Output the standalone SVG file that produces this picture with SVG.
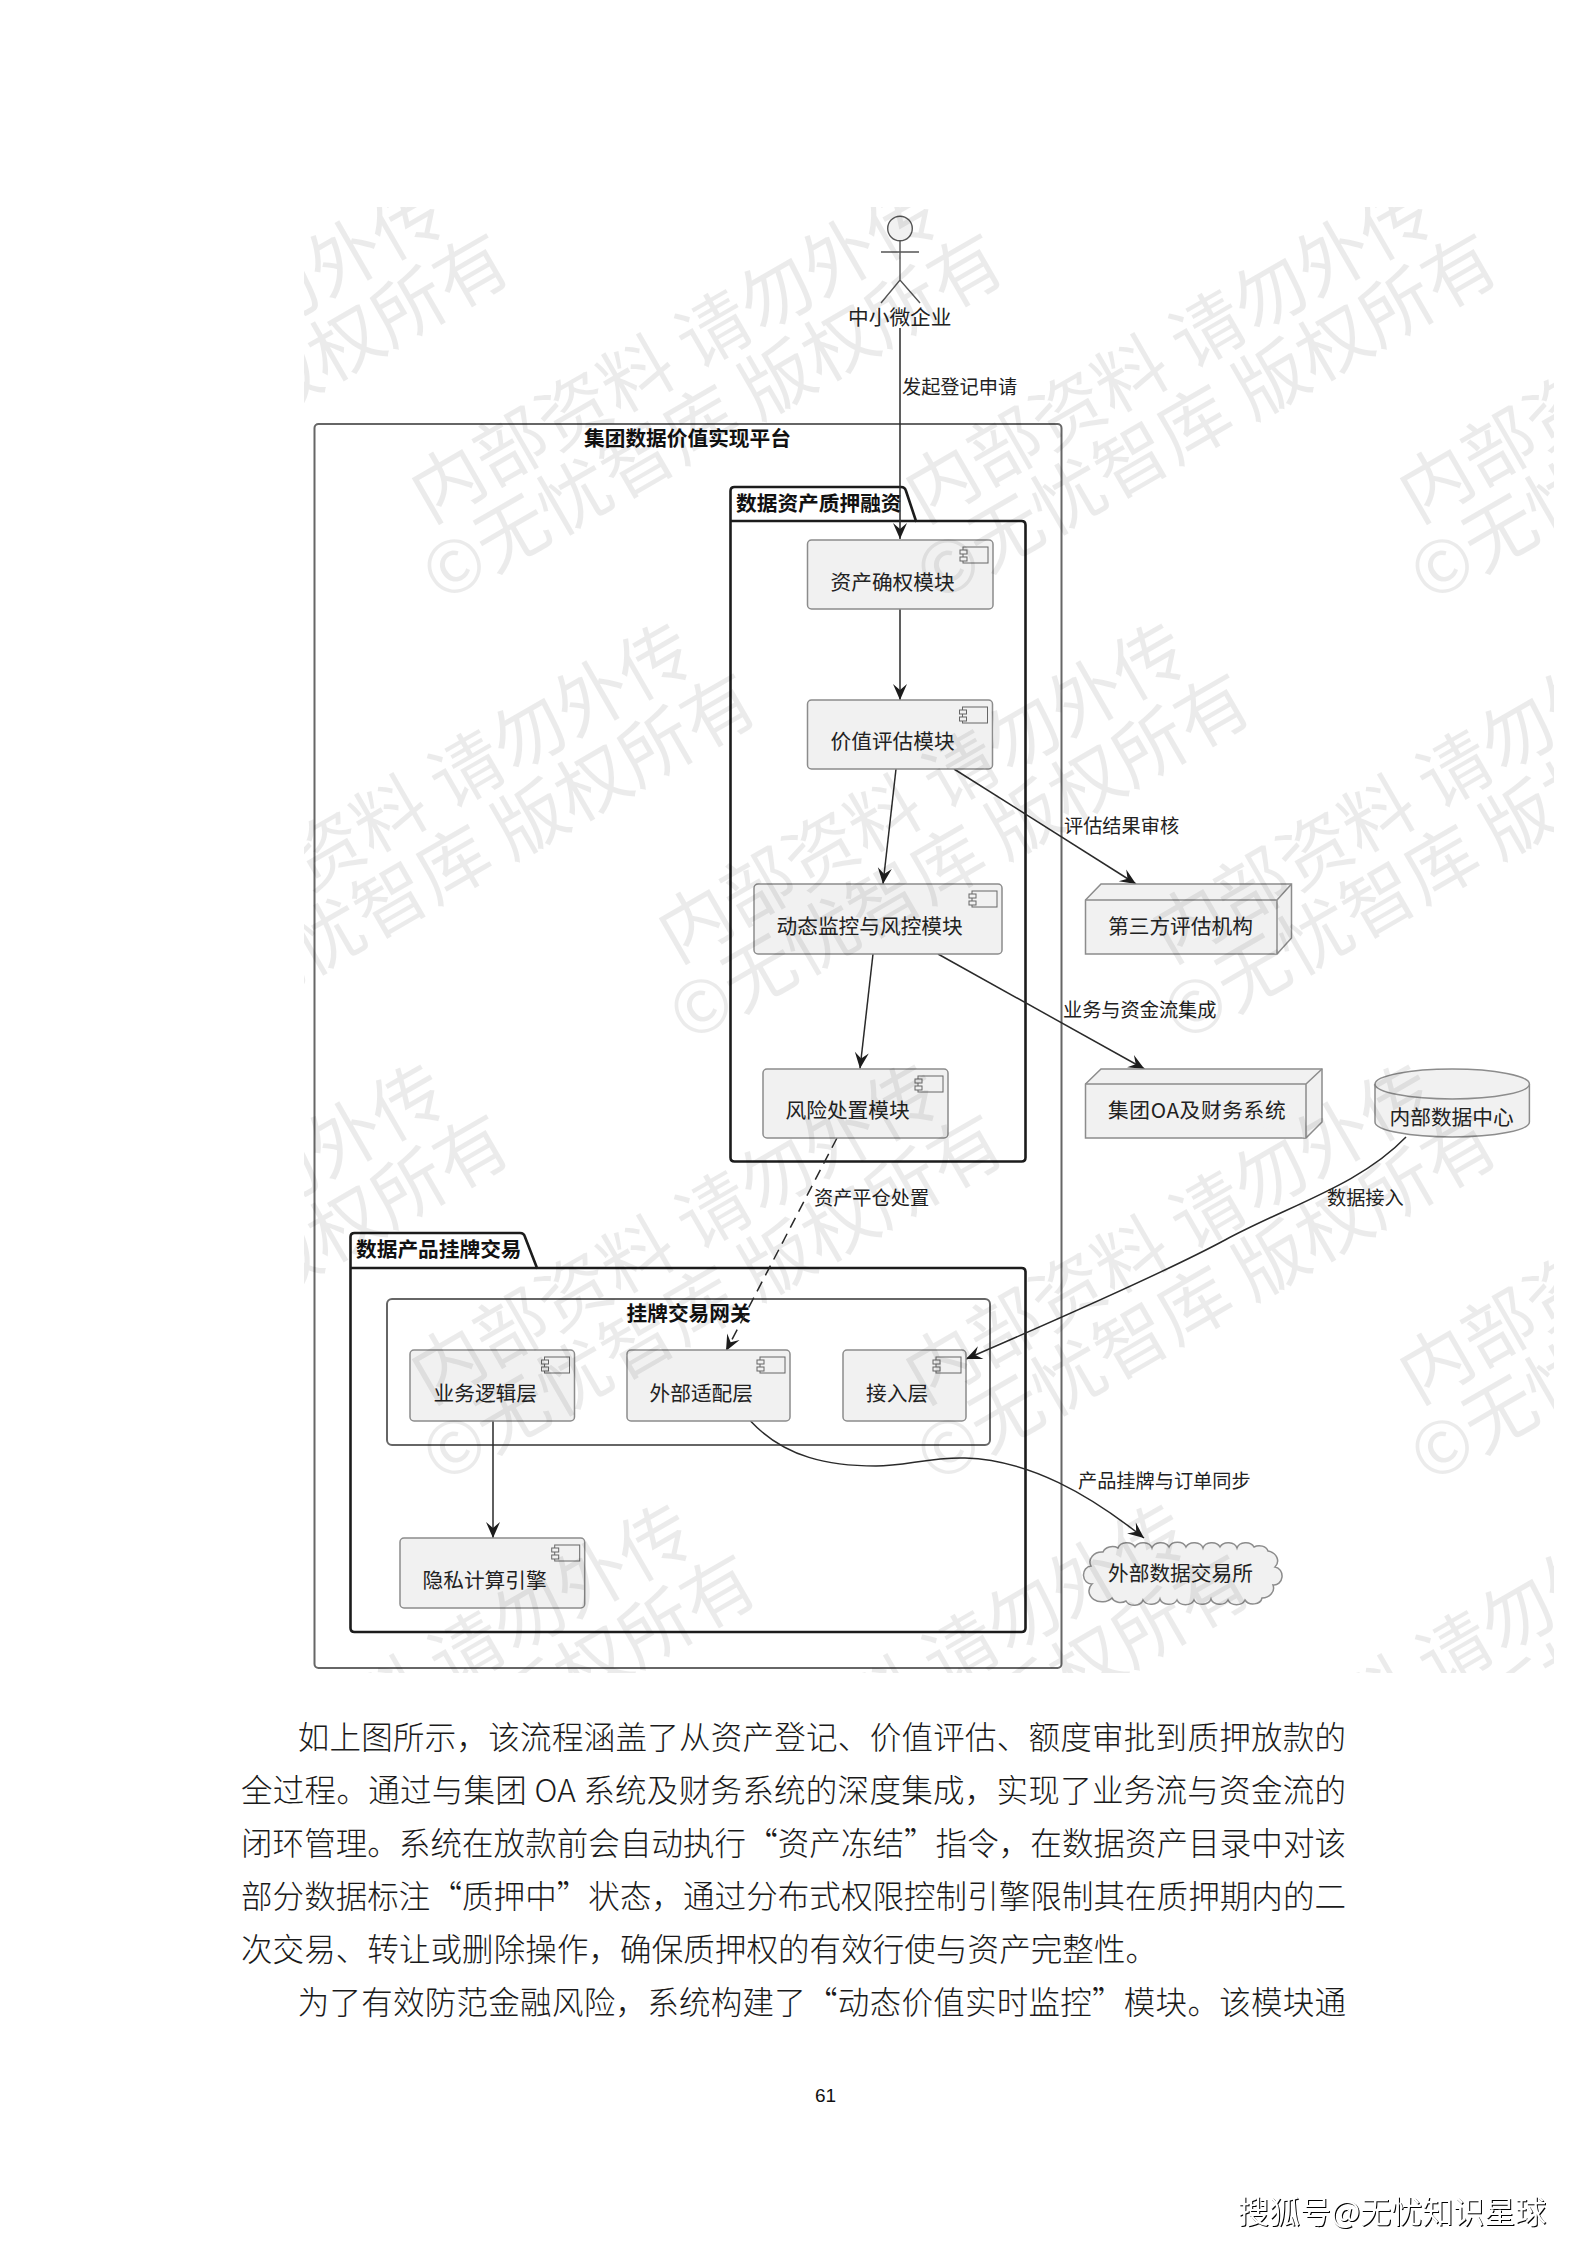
<svg xmlns="http://www.w3.org/2000/svg" xmlns:xlink="http://www.w3.org/1999/xlink" width="1587" height="2245" viewBox="0 0 1587 2245">
<style>
text{font-family:"Noto Sans CJK SC","Noto Sans",sans-serif;fill:#222}
.n{font-size:20.7px}
.b{font-size:20.7px;font-weight:700;fill:#111}
.e{font-size:19.2px}
.p{font-size:31.5px;fill:#1a1a1a;font-weight:300}
.wm{font-size:72.5px;fill:#000;fill-opacity:.08;text-anchor:middle}
.box{fill:#f1f1f1;stroke:#8c8c8c;stroke-width:1.5}
.pkg{fill:none;stroke:#1c1c1c;stroke-width:2.6;stroke-linejoin:round}
.frm{fill:none;stroke:#666;stroke-width:2}
.ln{fill:none;stroke:#2a2a2a;stroke-width:1.5}
.act{fill:none;stroke:#555;stroke-width:1.4}
.ic{fill:#f1f1f1;stroke:#666;stroke-width:1}
</style>
<defs>
<marker id="ah" markerUnits="userSpaceOnUse" viewBox="-17 -8 18 16" refX="0" refY="0" markerWidth="18" markerHeight="16" orient="auto"><path d="M0 0L-16 -7L-10 0L-16 7Z" fill="#1c1c1c"/></marker>
<g id="ci"><rect class="ic" x="-30" y="7" width="25" height="16"/><rect class="ic" x="-33" y="10" width="7" height="4"/><rect class="ic" x="-33" y="17" width="7" height="4"/></g>
<g id="wm"><text class="wm" x="0" y="-12">内部资料 请勿外传</text><text class="wm" x="0" y="63">©无忧智库 版权所有</text></g>
<clipPath id="wc"><rect x="304" y="207" width="1250" height="1466"/></clipPath>
</defs>
<rect width="1587" height="2245" fill="#fff"/>

<g id="platform"><rect class="frm" x="314.5" y="424" width="747" height="1244" rx="4"/><text class="b" x="584" y="445.5">集团数据价值实现平台</text></g>
<g id="pkg-pledge"><path class="pkg" d="M730.5 521V491q0-4 4-4H901q4 0 5 4l10 30H1021.5q4 0 4 4V1157.5q0 4-4 4H734.5q-4 0-4-4Z"/><path class="pkg" d="M730.5 521H916"/><text class="b" x="736" y="510.5">数据资产质押融资</text></g>
<g id="pkg-listing"><path class="pkg" d="M350.5 1268V1237q0-4 4-4H520q4 0 5 4l12 31H1021.5q4 0 4 4V1628q0 4-4 4H354.5q-4 0-4-4Z"/><path class="pkg" d="M350.5 1268H537"/><text class="b" x="356" y="1256.5">数据产品挂牌交易</text></g>
<g id="gateway"><rect x="387" y="1299" width="603" height="146" rx="5" fill="none" stroke="#666" stroke-width="2"/><text class="b" x="626.5" y="1320.5">挂牌交易网关</text></g>

<g id="connectors">
<path class="ln" d="M900 328V539" marker-end="url(#ah)"/>
<path class="ln" d="M900 609V700" marker-end="url(#ah)"/>
<path class="ln" d="M896 769L883 884" marker-end="url(#ah)"/>
<path class="ln" d="M873 954L860 1068.5" marker-end="url(#ah)"/>
<path class="ln" d="M954 769L1136 884" marker-end="url(#ah)"/>
<path class="ln" d="M938 954L1144.5 1069" marker-end="url(#ah)"/>
<path class="ln" d="M837 1138L726 1351" stroke-dasharray="11 7" marker-end="url(#ah)"/>
<path class="ln" d="M1406 1137C1360 1185 1290 1205 1225 1240S1040 1327 966 1359" marker-end="url(#ah)"/>
<path class="ln" d="M493 1421V1538" marker-end="url(#ah)"/>
<path class="ln" d="M750.5 1421C785 1458 830 1466 876 1466C905 1466 930 1457 965 1458C1030 1460 1090 1495 1144 1538" marker-end="url(#ah)"/>
<text class="e" x="902" y="393.5">发起登记申请</text>
<text class="e" x="1064" y="833">评估结果审核</text>
<text class="e" x="1063" y="1017">业务与资金流集成</text>
<text class="e" x="814" y="1205">资产平仓处置</text>
<text class="e" x="1327" y="1205">数据接入</text>
<text class="e" x="1078" y="1488">产品挂牌与订单同步</text>
</g>

<g id="actor"><circle cx="900" cy="228.5" r="12.3" fill="#f1f1f1" stroke="#555" stroke-width="1.4"/><path class="act" d="M900 241V280M881 252H919M881 303L900 280L920 303"/><text class="n" x="848" y="324.5">中小微企业</text></g>

<g id="asset-rights"><rect class="box" x="807.5" y="540" width="185.5" height="69" rx="4"/><use xlink:href="#ci" transform="translate(993 540)"/><text class="n" x="830.5" y="589.5">资产确权模块</text></g>
<g id="valuation"><rect class="box" x="807.5" y="700" width="185" height="69" rx="4"/><use xlink:href="#ci" transform="translate(992.5 700)"/><text class="n" x="830.5" y="748.5">价值评估模块</text></g>
<g id="monitoring"><rect class="box" x="754" y="884" width="248" height="70" rx="4"/><use xlink:href="#ci" transform="translate(1002 884)"/><text class="n" x="776.5" y="933.5">动态监控与风控模块</text></g>
<g id="disposal"><rect class="box" x="763" y="1069" width="185" height="69" rx="4"/><use xlink:href="#ci" transform="translate(948 1069)"/><text class="n" x="785.5" y="1117.5">风险处置模块</text></g>

<g id="third-party"><path class="box" d="M1085.5 900L1101 884H1291.500V938L1277 954H1085.5Z"/><path class="box" fill="none" d="M1085.5 900H1277V954M1277 900L1291.500 884"/><text class="n" x="1108" y="933.500">第三方评估机构</text></g>
<g id="oa-finance"><path class="box" d="M1085.5 1084L1101 1069H1322V1122L1306 1138H1085.5Z"/><path class="box" fill="none" d="M1085.5 1084H1306V1138M1306 1084L1322 1069"/><text class="n" x="1108" y="1117.500" textLength="177.600">集团OA及财务系统</text></g>
<g id="data-center"><path class="box" d="M1375 1084A77.200 15 0 0 1 1529.400 1084V1122A77.200 15 0 0 1 1375 1122Z"/><path class="box" fill="none" d="M1375 1084A77.200 15 0 0 0 1529.400 1084"/><text class="n" x="1389.500" y="1124.500">内部数据中心</text></g>

<g id="biz-logic"><rect class="box" x="410" y="1350" width="164.500" height="71" rx="4"/><use xlink:href="#ci" transform="translate(574.500 1350)"/><text class="n" x="433.500" y="1400.500">业务逻辑层</text></g>
<g id="adapter"><rect class="box" x="627" y="1350" width="163" height="71" rx="4"/><use xlink:href="#ci" transform="translate(790 1350)"/><text class="n" x="649.500" y="1400.500">外部适配层</text></g>
<g id="access"><rect class="box" x="843" y="1350" width="123" height="71" rx="4"/><use xlink:href="#ci" transform="translate(966 1350)"/><text class="n" x="866" y="1400.500">接入层</text></g>
<g id="privacy"><rect class="box" x="400" y="1538" width="184.700" height="70" rx="4"/><use xlink:href="#ci" transform="translate(584.700 1538)"/><text class="n" x="422.500" y="1587.500">隐私计算引擎</text></g>
<g id="exchange"><path class="box" d="M1103 1552A10 8 0 0 1 1118 1548A9 7 0 0 1 1135 1547A9 7 0 0 1 1152 1548A9 7 0 0 1 1169 1547A9 7 0 0 1 1186 1547A9 7 0 0 1 1203 1548A9 7 0 0 1 1220 1547A9 7 0 0 1 1237 1548A9 7 0 0 1 1254 1547A9 7 0 0 1 1268 1551A12 10 0 0 1 1275 1567A8 9 0 0 1 1273 1585A12 10 0 0 1 1262 1598A9 7 0 0 1 1245 1600A9 7 0 0 1 1228 1600A9 7 0 0 1 1211 1599A9 7 0 0 1 1194 1600A9 7 0 0 1 1177 1600A9 7 0 0 1 1160 1599A9 7 0 0 1 1143 1600A9 7 0 0 1 1126 1601A9 7 0 0 1 1112 1598A12 10 0 0 1 1092 1584A8 9 0 0 1 1091 1566A12 10 0 0 1 1103 1552Z"/><text class="n" x="1108" y="1580.500">外部数据交易所</text></g>

<g id="watermark" clip-path="url(#wc)">
<use xlink:href="#wm" transform="translate(200 385) rotate(-30)"/><use xlink:href="#wm" transform="translate(694 385) rotate(-30)"/><use xlink:href="#wm" transform="translate(1188 385) rotate(-30)"/><use xlink:href="#wm" transform="translate(1682 385) rotate(-30)"/>
<use xlink:href="#wm" transform="translate(447 825) rotate(-30)"/><use xlink:href="#wm" transform="translate(941 825) rotate(-30)"/><use xlink:href="#wm" transform="translate(1435 825) rotate(-30)"/>
<use xlink:href="#wm" transform="translate(200 1266) rotate(-30)"/><use xlink:href="#wm" transform="translate(694 1266) rotate(-30)"/><use xlink:href="#wm" transform="translate(1188 1266) rotate(-30)"/><use xlink:href="#wm" transform="translate(1682 1266) rotate(-30)"/>
<use xlink:href="#wm" transform="translate(447 1706) rotate(-30)"/><use xlink:href="#wm" transform="translate(941 1706) rotate(-30)"/><use xlink:href="#wm" transform="translate(1435 1706) rotate(-30)"/>
</g>

<g id="body-text">
<text class="p" x="297.700" y="1749" textLength="1048.300">如上图所示，该流程涵盖了从资产登记、价值评估、额度审批到质押放款的</text>
<text class="p" x="241" y="1802" textLength="1105">全过程。通过与集团 OA 系统及财务系统的深度集成，实现了业务流与资金流的</text>
<text class="p" x="241" y="1855" textLength="1105">闭环管理。系统在放款前会自动执行“资产冻结”指令，在数据资产目录中对该</text>
<text class="p" x="241" y="1908" textLength="1105">部分数据标注“质押中”状态，通过分布式权限控制引擎限制其在质押期内的二</text>
<text class="p" x="241" y="1961" textLength="916">次交易、转让或删除操作，确保质押权的有效行使与资产完整性。</text>
<text class="p" x="297.700" y="2014" textLength="1048.300">为了有效防范金融风险，系统构建了“动态价值实时监控”模块。该模块通</text>
<text x="815" y="2102" style="font-family:'Liberation Sans',sans-serif;font-size:19px;fill:#111">61</text>
</g>
<text x="1238" y="2223" style="font-size:31px;fill:#fff;filter:drop-shadow(1px 1px 0 #000)">搜狐号@无忧知识星球</text>
</svg>
